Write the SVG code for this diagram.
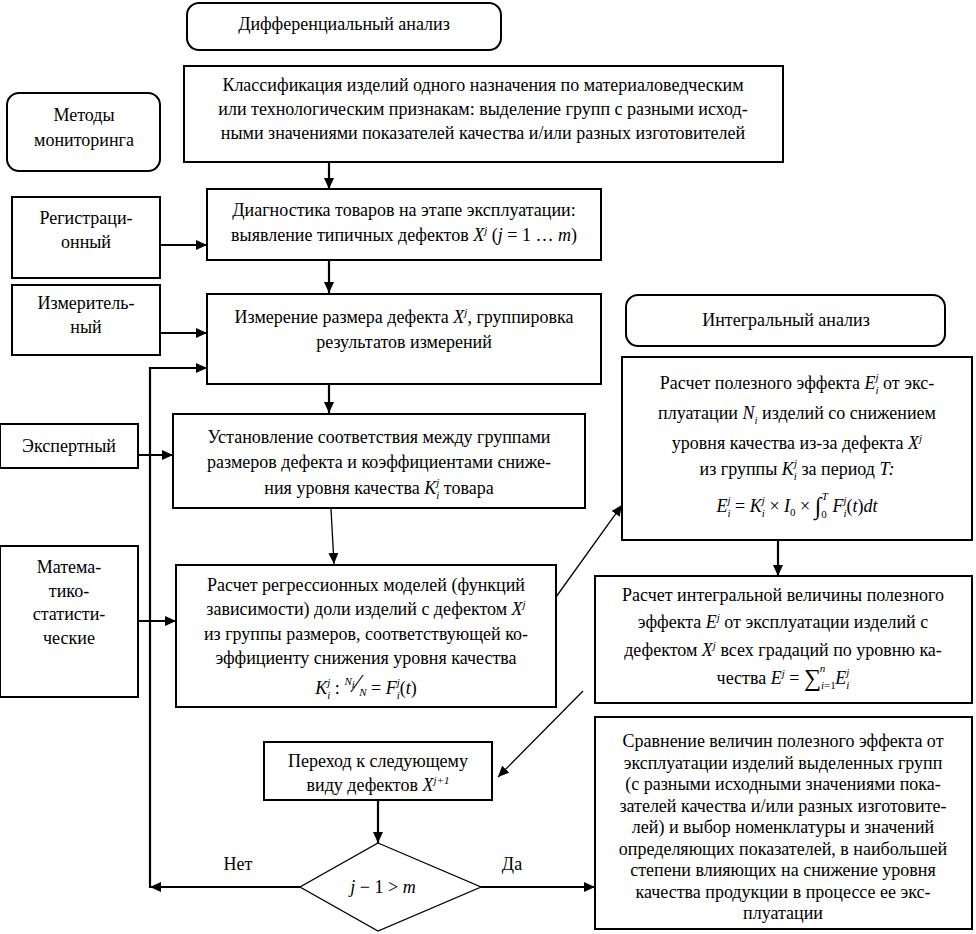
<svg xmlns="http://www.w3.org/2000/svg" width="976" height="934" viewBox="0 0 976 934">
<defs>
<marker id="ah" markerUnits="userSpaceOnUse" markerWidth="12" markerHeight="10" refX="11" refY="5" orient="auto">
<path d="M0,0 L11,5 L0,10 z" fill="#000"/>
</marker>
<style>
text{font-family:'Liberation Serif','Times New Roman',serif}
.t{font-size:18px;text-anchor:middle;fill:#000}
.i{font-style:italic}
.s{font-size:11px}
.box{fill:#fff;stroke:#000;stroke-width:2}
.dia{fill:#fff;stroke:#000;stroke-width:1.3}
.ln{fill:none;stroke:#000;stroke-width:2.2}
.th{fill:none;stroke:#000;stroke-width:1.3}
</style>
</defs>
<rect width="976" height="934" fill="#fff"/>

<g id="connectors">
<path class="ln" d="M329,162 V189" marker-end="url(#ah)"/>
<path class="ln" d="M329,260 V293" marker-end="url(#ah)"/>
<path class="ln" d="M329,384 V413" marker-end="url(#ah)"/>
<path class="th" d="M331,509 L334,564" marker-end="url(#ah)"/>
<path class="ln" d="M160,245 H207" marker-end="url(#ah)"/>
<path class="ln" d="M160,333 H207" marker-end="url(#ah)"/>
<path class="ln" d="M138,455 H173" marker-end="url(#ah)"/>
<path class="ln" d="M138,621 H176" marker-end="url(#ah)"/>
<path class="ln" d="M300,887 H150" marker-end="url(#ah)"/>
<path class="ln" d="M150,888 V368 H207" marker-end="url(#ah)"/>
<path class="ln" d="M481,887 H595" marker-end="url(#ah)"/>
<path class="ln" d="M378,800 V843" marker-end="url(#ah)"/>
<path class="th" d="M556,597 L622,505" marker-end="url(#ah)"/>
<path class="ln" d="M778,540 V576" marker-end="url(#ah)"/>
<path class="th" d="M583,691 L498,777" marker-end="url(#ah)"/>
</g>

<g id="diff">
<rect class="box" x="187" y="3" width="314" height="47" rx="12"/>
<text class="t" x="344" y="30">Дифференциальный анализ</text>
</g>

<g id="classif">
<rect class="box" x="184" y="66" width="599" height="96"/>
<text class="t" x="483" y="91">Классификация изделий одного назначения по материаловедческим</text>
<text class="t" x="483" y="115">или технологическим признакам: выделение групп с разными исход-</text>
<text class="t" x="483" y="139">ными значениями показателей качества и/или разных изготовителей</text>
</g>

<g id="methods">
<rect class="box" x="7" y="93" width="153" height="78" rx="12"/>
<text class="t" x="84" y="121">Методы</text>
<text class="t" x="84" y="146">мониторинга</text>
</g>

<g id="reg">
<rect class="box" x="12" y="197" width="148" height="81"/>
<text class="t" x="86" y="224">Регистраци-</text>
<text class="t" x="86" y="248">онный</text>
</g>

<g id="meas">
<rect class="box" x="12" y="285" width="148" height="70"/>
<text class="t" x="86" y="309">Измеритель-</text>
<text class="t" x="86" y="333">ный</text>
</g>

<g id="expert">
<rect class="box" x="0" y="424" width="138" height="44"/>
<text class="t" x="69" y="452">Экспертный</text>
</g>

<g id="math">
<rect class="box" x="0" y="546" width="138" height="151"/>
<text class="t" x="69" y="573">Матема-</text>
<text class="t" x="69" y="597">тико-</text>
<text class="t" x="69" y="620">статисти-</text>
<text class="t" x="69" y="644">ческие</text>
</g>

<g id="diag">
<rect class="box" x="207" y="189" width="394" height="71"/>
<text class="t" x="404" y="216">Диагностика товаров на этапе эксплуатации:</text>
<text class="t" x="404" y="241">выявление типичных дефектов <tspan class="i">X</tspan><tspan class="s i" dy="-7">j</tspan><tspan dy="7"> (</tspan><tspan class="i">j</tspan> = 1 … <tspan class="i">m</tspan>)</text>
</g>

<g id="measure">
<rect class="box" x="207" y="294" width="394" height="90"/>
<text class="t" x="404" y="323">Измерение размера дефекта <tspan class="i">X</tspan><tspan class="s i" dy="-7">j</tspan><tspan dy="7">, группировка</tspan></text>
<text class="t" x="404" y="348">результатов измерений</text>
</g>

<g id="corr">
<rect class="box" x="173" y="414" width="412" height="94"/>
<text class="t" x="379" y="443">Установление соответствия между группами</text>
<text class="t" x="379" y="468">размеров дефекта и коэффициентами сниже-</text>
<text class="t" x="379" y="494">ния уровня качества  <tspan class="i">K</tspan><tspan class="s i" dy="5">i</tspan><tspan class="s i" dx="-3" dy="-13">j</tspan><tspan dy="8">  товара</tspan></text>
</g>

<g id="regr">
<rect class="box" x="176" y="565" width="380" height="142"/>
<text class="t" x="366" y="591">Расчет регрессионных моделей (функций</text>
<text class="t" x="366" y="615">зависимости) доли изделий с дефектом <tspan class="i">X</tspan><tspan class="s i" dy="-7">j</tspan></text>
<text class="t" x="366" y="640">из группы размеров, соответствующей ко-</text>
<text class="t" x="366" y="664">эффициенту снижения уровня качества</text>
<text class="t" x="366" y="694"><tspan class="i">K</tspan><tspan class="s i" dy="5">i</tspan><tspan class="s i" dx="-3" dy="-13">j</tspan><tspan dy="8"> :  </tspan><tspan class="s i" dy="-9">N</tspan><tspan class="s i" dy="3">i</tspan><tspan font-size="26" dy="4">⁄</tspan><tspan class="s i" dy="4">N</tspan><tspan dy="-2"> = </tspan><tspan class="i">F</tspan><tspan class="s i" dy="5">i</tspan><tspan class="s i" dx="-3" dy="-13">j</tspan><tspan dy="8">(</tspan><tspan class="i">t</tspan>)</text>
</g>

<g id="next">
<rect class="box" x="264" y="742" width="228" height="58"/>
<text class="t" x="378" y="767">Переход к следующему</text>
<text class="t" x="378" y="791">виду дефектов <tspan class="i">X</tspan><tspan class="s i" dy="-7">j+1</tspan></text>
</g>

<g id="decision">
<polygon class="dia" points="378,843 481,887 378,931 300,887"/>
<text class="t" x="383" y="893"><tspan class="i">j</tspan> − 1 &gt; <tspan class="i">m</tspan></text>
</g>

<g id="labels">
<text class="t" x="238" y="870">Нет</text>
<text class="t" x="512" y="870">Да</text>
</g>

<g id="integr">
<rect class="box" x="626" y="295" width="319" height="51" rx="12"/>
<text class="t" x="786" y="326">Интегральный анализ</text>
</g>

<g id="effect">
<rect class="box" x="622" y="357" width="350" height="183"/>
<text class="t" x="797" y="389">Расчет полезного эффекта   <tspan class="i">E</tspan><tspan class="s i" dy="5">i</tspan><tspan class="s i" dx="-3" dy="-13">j</tspan><tspan dy="8"> от экс-</tspan></text>
<text class="t" x="797" y="419">плуатации   <tspan class="i">N</tspan><tspan class="s i" dy="5">i</tspan><tspan dy="-5">  изделий со снижением</tspan></text>
<text class="t" x="797" y="449">уровня качества из-за дефекта   <tspan class="i">X</tspan><tspan class="s i" dy="-7">j</tspan></text>
<text class="t" x="797" y="475">из группы   <tspan class="i">K</tspan><tspan class="s i" dy="5">i</tspan><tspan class="s i" dx="-3" dy="-13">j</tspan><tspan dy="8"> за период </tspan><tspan class="i">T:</tspan></text>
<text class="t" x="797" y="512"><tspan class="i">E</tspan><tspan class="s i" dy="5">i</tspan><tspan class="s i" dx="-3" dy="-13">j</tspan><tspan dy="8"> = </tspan><tspan class="i">K</tspan><tspan class="s i" dy="5">i</tspan><tspan class="s i" dx="-3" dy="-13">j</tspan><tspan dy="8"> × </tspan><tspan class="i">I</tspan><tspan class="s" dy="4">0</tspan><tspan dy="-4"> × </tspan><tspan font-size="24" dy="2">∫</tspan><tspan class="s" dy="4">0</tspan><tspan class="s i" dx="-5" dy="-18">T</tspan><tspan class="i" dy="12"> F</tspan><tspan class="s i" dy="5">i</tspan><tspan class="s i" dx="-3" dy="-13">j</tspan><tspan dy="8">(</tspan><tspan class="i">t</tspan>)<tspan class="i">dt</tspan></text>
</g>

<g id="integral">
<rect class="box" x="595" y="576" width="377" height="127"/>
<text class="t" x="783" y="601">Расчет интегральной величины полезного</text>
<text class="t" x="783" y="628">эффекта  <tspan class="i">E</tspan><tspan class="s i" dy="-7">j</tspan><tspan dy="7"> от эксплуатации изделий с</tspan></text>
<text class="t" x="783" y="656">дефектом <tspan class="i">X</tspan><tspan class="s i" dy="-7">j</tspan><tspan dy="7"> всех градаций по уровню ка-</tspan></text>
<text class="t" x="783" y="684">чества  <tspan class="i">E</tspan><tspan class="s i" dy="-7">j</tspan><tspan dy="7"> = </tspan><tspan font-size="24" dy="2">∑</tspan><tspan class="s i" dy="3">i</tspan><tspan class="s">=1</tspan><tspan class="s i" dx="-16" dy="-17">n</tspan><tspan class="i" dx="10" dy="12">E</tspan><tspan class="s i" dy="5">i</tspan><tspan class="s i" dx="-3" dy="-13">j</tspan></text>
</g>

<g id="compare">
<rect class="box" x="595" y="717" width="377" height="212"/>
<text class="t" x="783" y="747">Сравнение величин полезного эффекта от</text>
<text class="t" x="783" y="769">эксплуатации изделий выделенных групп</text>
<text class="t" x="783" y="790">(с разными исходными значениями пока-</text>
<text class="t" x="783" y="812">зателей качества и/или разных изготовите-</text>
<text class="t" x="783" y="833">лей) и выбор номенклатуры и значений</text>
<text class="t" x="783" y="855">определяющих показателей, в наибольшей</text>
<text class="t" x="783" y="876">степени влияющих на снижение уровня</text>
<text class="t" x="783" y="898">качества продукции в процессе ее экс-</text>
<text class="t" x="783" y="919">плуатации</text>
</g>
</svg>
